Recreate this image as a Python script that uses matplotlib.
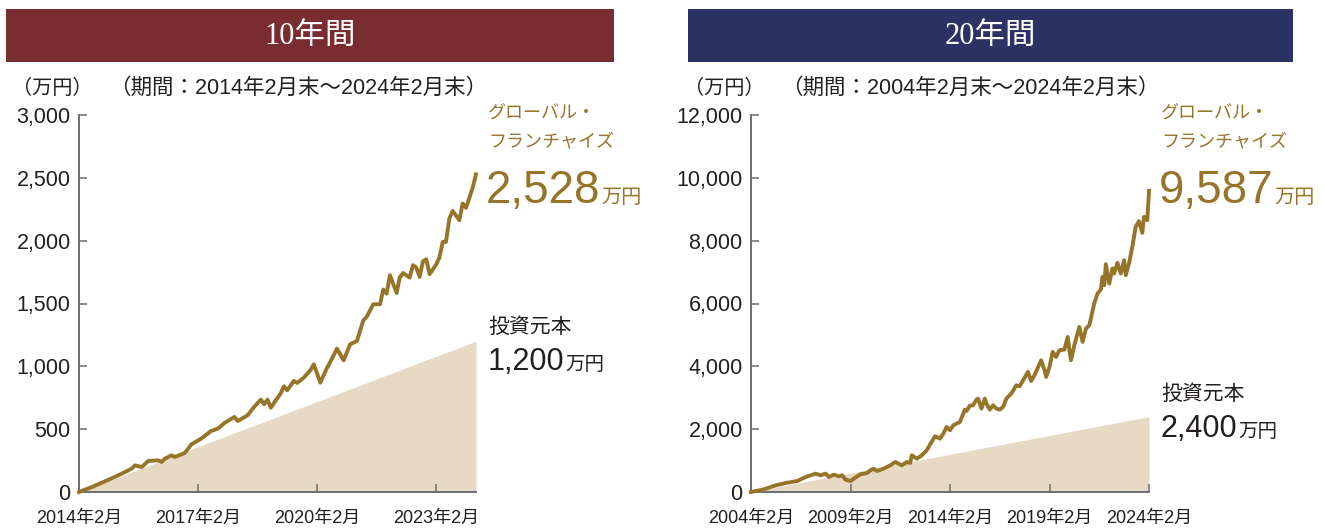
import matplotlib
matplotlib.use("Agg")
import matplotlib.pyplot as plt
import matplotlib.patches as patches
import pandas as pd

W, H = 1323, 528

# 10年間: 2014年2月末～2024年2月末 (万円)
dates_10y = ["2014-02", "2014-06", "2014-11", "2015-03", "2015-06", "2015-07", "2015-09", "2015-11",
             "2016-02", "2016-03", "2016-04", "2016-06", "2016-07", "2016-10", "2016-12", "2017-03",
             "2017-06", "2017-08", "2017-10", "2018-01", "2018-02", "2018-05", "2018-07", "2018-09",
             "2018-10", "2018-11", "2018-12", "2019-03", "2019-04", "2019-05", "2019-07", "2019-08",
             "2019-10", "2019-12", "2020-01", "2020-03", "2020-05", "2020-06", "2020-08", "2020-10",
             "2020-12", "2021-02", "2021-04", "2021-05", "2021-07", "2021-09", "2021-10", "2021-11",
             "2021-12", "2022-02", "2022-03", "2022-04", "2022-06", "2022-07", "2022-08", "2022-09",
             "2022-10", "2022-11", "2022-12", "2023-02", "2023-03", "2023-04", "2023-05", "2023-06",
             "2023-07", "2023-09", "2023-10", "2023-11", "2024-01", "2024-02"]
fund_10y = [0, 40, 98, 146, 186, 212, 199, 247,
            252, 239, 265, 292, 279, 310, 379, 425,
            486, 504, 549, 597, 565, 610, 677, 735,
            698, 735, 671, 783, 841, 809, 884, 868,
            910, 969, 1016, 870, 987, 1035, 1141, 1048,
            1176, 1202, 1367, 1393, 1494, 1494, 1611, 1579,
            1725, 1584, 1706, 1743, 1706, 1805, 1786, 1712,
            1836, 1852, 1733, 1812, 1865, 1990, 1990, 2176,
            2237, 2163, 2296, 2261, 2420, 2528]
principal_dates_10y = ["2014-02", "2024-02"]
principal_10y = [0, 1200]

# 20年間: 2004年2月末～2024年2月末 (万円)
dates_20y = ["2004-02", "2004-09", "2005-05", "2005-11", "2006-06", "2006-11", "2007-05", "2007-08",
             "2007-11", "2008-01", "2008-04", "2008-07", "2008-09", "2008-11", "2009-02", "2009-04",
             "2009-08", "2009-12", "2010-02", "2010-04", "2010-06", "2010-10", "2011-02", "2011-05",
             "2011-09", "2011-12", "2012-02", "2012-03", "2012-06", "2012-09", "2012-12", "2013-02",
             "2013-05", "2013-08", "2013-10", "2013-12", "2014-02", "2014-04", "2014-08", "2014-11",
             "2014-12", "2015-02", "2015-04", "2015-06", "2015-07", "2015-09", "2015-11", "2015-12",
             "2016-02", "2016-04", "2016-06", "2016-08", "2016-10", "2016-12", "2017-03", "2017-06",
             "2017-08", "2017-11", "2018-01", "2018-03", "2018-05", "2018-09", "2018-11", "2018-12",
             "2019-02", "2019-04", "2019-06", "2019-08", "2019-11", "2020-01", "2020-02", "2020-03",
             "2020-05", "2020-08", "2020-10", "2020-12", "2021-02", "2021-05", "2021-07", "2021-09",
             "2021-10", "2021-11", "2021-12", "2022-02", "2022-04", "2022-05", "2022-07", "2022-09",
             "2022-11", "2022-12", "2023-02", "2023-04", "2023-06", "2023-08", "2023-10", "2023-11",
             "2024-01", "2024-02"]
fund_20y = [0, 74, 212, 287, 350, 478, 584, 531,
            584, 478, 552, 499, 531, 393, 350, 425,
            563, 605, 690, 743, 669, 743, 849, 955,
            849, 955, 924, 1168, 1062, 1168, 1327, 1518,
            1773, 1699, 1858, 2070, 1964, 2123, 2229, 2622,
            2580, 2750, 2760, 2941, 2972, 2654, 2972, 2813,
            2622, 2760, 2654, 2622, 2707, 2972, 3132, 3397,
            3365, 3641, 3822, 3535, 3716, 4193, 3875, 3662,
            3981, 4459, 4300, 4512, 4533, 4936, 4512, 4193,
            4671, 5255, 4777, 5202, 5308, 5998, 6317, 6444,
            6847, 6582, 7251, 6635, 7113, 6953, 7293, 6953,
            7378, 6900, 7293, 7803, 8440, 8620, 8249, 8758,
            8652, 9587]
principal_dates_20y = ["2004-02", "2024-02"]
principal_20y = [0, 2400]

yticks_10y = [0, 500, 1000, 1500, 2000, 2500, 3000]
yticks_20y = [0, 2000, 4000, 6000, 8000, 10000, 12000]
xticks_10y = ["2014-02", "2017-02", "2020-02", "2023-02"]
xticks_20y = ["2004-02", "2009-02", "2014-02", "2019-02", "2024-02"]

GOLD = "#96752b"
BEIGE = "#e7dac5"
TEXT = "#231f20"
AXIS = "#6d6e71"
JP = ["Noto Sans CJK JP", "DejaVu Sans"]
NUM = ["Liberation Sans", "Noto Sans CJK JP"]


def fx(x):
    return x / W


def fy(y):
    return 1 - y / H


def rect(l, t, r, b):
    return [fx(l), fy(b), (r - l) / W, (b - t) / H]


fig = plt.figure(figsize=(W / 100, H / 100), dpi=100)


def panel(left, right, banner, color, title, dates, fund, pdates, principal,
          yticks, xticks, period, base):
    # banner
    bl, br = banner
    fig.add_artist(patches.Rectangle((fx(bl), fy(62)), (br - bl) / W, 53 / H,
                                     transform=fig.transFigure, color=color, lw=0))
    fig.text(fx((bl + br) / 2), fy(36), title, color="white", fontsize=22,
             family=["Liberation Serif", "Noto Sans CJK JP"], ha="center", va="center")

    ax = fig.add_axes(rect(left, 115, right, 492))
    d = pd.to_datetime(dates)
    pd_ = pd.to_datetime(pdates)
    ax.fill_between(pd_, principal, 0, color=BEIGE, lw=0, zorder=1)
    ax.plot(d, fund, color=GOLD, lw=2.8, solid_joinstyle="round", clip_on=False, zorder=3)

    ax.set_xlim(pd_[0], pd_[-1])
    ax.set_ylim(yticks[0], yticks[-1])
    ax.set_yticks(yticks)
    ax.set_yticklabels([f"{v:,}" for v in yticks], family=NUM, fontsize=15.5, color=TEXT)
    xt = pd.to_datetime(xticks)
    ax.set_xticks(xt)
    ax.set_xticklabels([f"{t.year}年{t.month}月" for t in xt], family=NUM, fontsize=13,
                       color=TEXT)
    ax.tick_params(axis="y", direction="in", length=6, width=1.1, color=AXIS, pad=6)
    ax.tick_params(axis="x", direction="in", length=6, width=1.1, color=AXIS, pad=13)
    for s in ["top", "right"]:
        ax.spines[s].set_visible(False)
    for s in ["left", "bottom"]:
        ax.spines[s].set_color(AXIS)
        ax.spines[s].set_linewidth(1.4)
    ax.patch.set_alpha(0)

    # headers above the axes
    fig.text(fx(left - 67), fy(88), "（万円）", family=NUM, fontsize=14.5, color=TEXT,
             ha="left", va="center")
    fig.text(fx(left + 30), fy(88), period, family=NUM, fontsize=15.5, color=TEXT,
             ha="left", va="center")

    # labels to the right
    lx = right + 12
    fig.text(fx(lx), fy(114), "グローバル・", family=JP, fontsize=13, color=GOLD,
             ha="left", va="center")
    fig.text(fx(lx), fy(141), "フランチャイズ", family=JP, fontsize=13, color=GOLD,
             ha="left", va="center")
    big = fig.text(fx(lx - 2), fy(203), f"{fund[-1]:,}", family=NUM, fontsize=33,
                   color=GOLD, ha="left", va="baseline")
    fig.text(fx(lx), fy(base - 43), "投資元本", family=JP, fontsize=15, color=TEXT,
             ha="left", va="center")
    small = fig.text(fx(lx), fy(base), f"{principal[-1]:,}", family=NUM, fontsize=22,
                     color=TEXT, ha="left", va="baseline")
    return ax, big, small


ax1, big1, small1 = panel(79, 476, (6, 614), "#7a2d31", "10年間", dates_10y, fund_10y,
                          principal_dates_10y, principal_10y, yticks_10y, xticks_10y,
                          "（期間：2014年2月末～2024年2月末）", base=370)
ax2, big2, small2 = panel(751, 1149, (688, 1293), "#2c3264", "20年間", dates_20y, fund_20y,
                          principal_dates_20y, principal_20y, yticks_20y, xticks_20y,
                          "（期間：2004年2月末～2024年2月末）", base=437)

# "万円" suffix right after the numbers
fig.canvas.draw()
inv = fig.transFigure.inverted()
for t, col, size in [(big1, GOLD, 14.5), (big2, GOLD, 14.5), (small1, TEXT, 14), (small2, TEXT, 14)]:
    bb = t.get_window_extent()
    x0, _ = inv.transform((bb.x1 + 1, bb.y0))
    fig.text(x0, t.get_position()[1], "万円", family=JP, fontsize=size, color=col,
             ha="left", va="baseline")

fig.savefig("out.png", dpi=100)
